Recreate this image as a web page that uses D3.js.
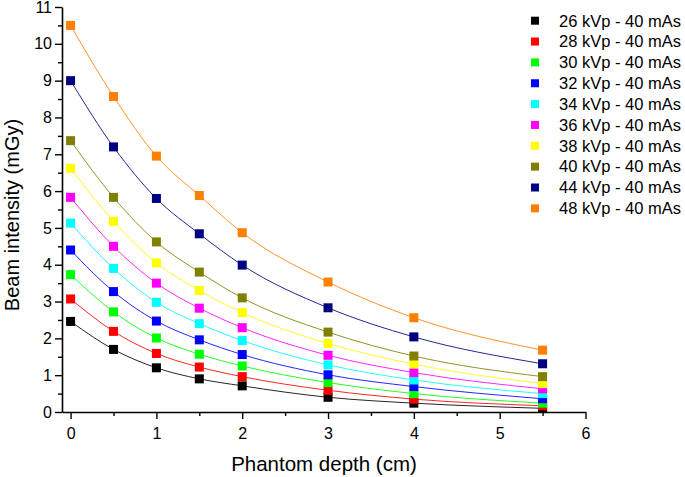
<!DOCTYPE html>
<html><head><meta charset="utf-8">
<script src="https://cdn.jsdelivr.net/npm/d3@7"></script>
<style>body{margin:0;background:#fff;} svg{display:block;font-family:"Liberation Sans",Arial,sans-serif;}</style>
</head><body><svg id="c" width="685" height="477"></svg>
<script>
const depths = [0, 0.5, 1, 1.5, 2, 3, 4, 5.5];
const seriesNames = ["26 kVp - 40 mAs","28 kVp - 40 mAs","30 kVp - 40 mAs","32 kVp - 40 mAs","34 kVp - 40 mAs","36 kVp - 40 mAs","38 kVp - 40 mAs","40 kVp - 40 mAs","44 kVp - 40 mAs","48 kVp - 40 mAs"];
const seriesColors = ["#000000","#ff0000","#00ff00","#0000ff","#00ffff","#ff00ff","#ffff00","#808000","#000080","#ff8000"];
const kv26 = [2.46, 1.70, 1.20, 0.90, 0.71, 0.40, 0.24, 0.10];
const kv28 = [3.07, 2.19, 1.59, 1.22, 0.96, 0.59, 0.35, 0.17];
const kv30 = [3.73, 2.72, 2.01, 1.57, 1.25, 0.80, 0.50, 0.24];
const kv32 = [4.40, 3.27, 2.47, 1.96, 1.56, 1.01, 0.69, 0.36];
const kv34 = [5.13, 3.90, 2.98, 2.40, 1.94, 1.28, 0.87, 0.50];
const kv36 = [5.83, 4.50, 3.50, 2.82, 2.29, 1.54, 1.07, 0.63];
const kv38 = [6.62, 5.18, 4.05, 3.30, 2.70, 1.86, 1.30, 0.77];
const kv40 = [7.37, 5.83, 4.62, 3.80, 3.10, 2.17, 1.52, 0.96];
const kv44 = [9.00, 7.20, 5.80, 4.84, 3.99, 2.83, 2.04, 1.31];
const kv48 = [10.50, 8.57, 6.95, 5.88, 4.87, 3.53, 2.56, 1.68];
const seriesValues = [kv26, kv28, kv30, kv32, kv34, kv36, kv38, kv40, kv44, kv48];
const xTicks = [0,1,2,3,4,5,6];
const yTicks = [0,1,2,3,4,5,6,7,8,9,10,11];
const xTitle = "Phantom depth (cm)";
const yTitle = "Beam intensity (mGy)";

const svg = d3.select("#c");
const x = d3.scaleLinear().domain([-0.1, 6]).range([62, 585.5]);
const y = d3.scaleLinear().domain([0, 11]).range([412, 7]);

// axes
const xAxis = svg.append("g").attr("transform","translate(0,412)")
  .call(d3.axisBottom(x).tickValues(xTicks).tickFormat(d3.format("d")).tickSize(7).tickSizeOuter(0));
const xMinor = svg.append("g").attr("transform","translate(0,412)")
  .call(d3.axisBottom(x).tickValues(d3.range(0.5,6,1)).tickFormat("").tickSize(4).tickSizeOuter(0));
const yAxis = svg.append("g").attr("transform","translate(62,0)")
  .call(d3.axisLeft(y).tickValues(yTicks).tickFormat(d3.format("d")).tickSize(7).tickSizeOuter(0));
const yMinor = svg.append("g").attr("transform","translate(62,0)")
  .call(d3.axisLeft(y).tickValues(d3.range(0.5,11,1)).tickFormat("").tickSize(4).tickSizeOuter(0));
[xAxis,xMinor,yAxis,yMinor].forEach(g=>{
  g.select(".domain").attr("stroke","#000").attr("stroke-width",1.6);
  g.selectAll(".tick line").attr("stroke","#000").attr("stroke-width",1.4);
  g.selectAll("text").attr("font-size",16).attr("fill","#000").attr("font-family","Liberation Sans, Arial, sans-serif");
});
xMinor.select(".domain").remove(); yMinor.select(".domain").remove();
xAxis.selectAll("text").attr("dy","1.05em");
yAxis.selectAll("text").attr("x",-10);

// titles
svg.append("text").attr("x",324).attr("y",471).attr("text-anchor","middle")
  .attr("font-size",20.5).text(xTitle);
svg.append("text").attr("transform","translate(19,215) rotate(-90)").attr("text-anchor","middle")
  .attr("font-size",20).text(yTitle);

// curves and points
const line = d3.line().x(d=>x(d[0])).y(d=>y(d[1])).curve(d3.curveMonotoneX);
seriesValues.forEach((vals,i)=>{
  const pts = depths.map((d,j)=>[d, vals[j]]);
  svg.append("path").datum(pts).attr("d",line).attr("fill","none")
    .attr("stroke",seriesColors[i]).attr("stroke-width",1).attr("opacity",0.85);
});
seriesValues.forEach((vals,i)=>{
  svg.append("g").selectAll("rect").data(depths.map((d,j)=>[d, vals[j]])).join("rect")
    .attr("x",d=>x(d[0])-4.5).attr("y",d=>y(d[1])-4.5).attr("width",9).attr("height",9)
    .attr("fill",seriesColors[i]);
});

// legend
const leg = svg.append("g");
seriesNames.forEach((n,i)=>{
  const cy = 20.7 + i*20.85;
  leg.append("rect").attr("x",531).attr("y",cy-4).attr("width",8).attr("height",8).attr("fill",seriesColors[i]);
  leg.append("text").attr("x",559).attr("y",cy+5.8).attr("font-size",16.5).attr("fill","#000").text(n);
});
</script></body></html>
